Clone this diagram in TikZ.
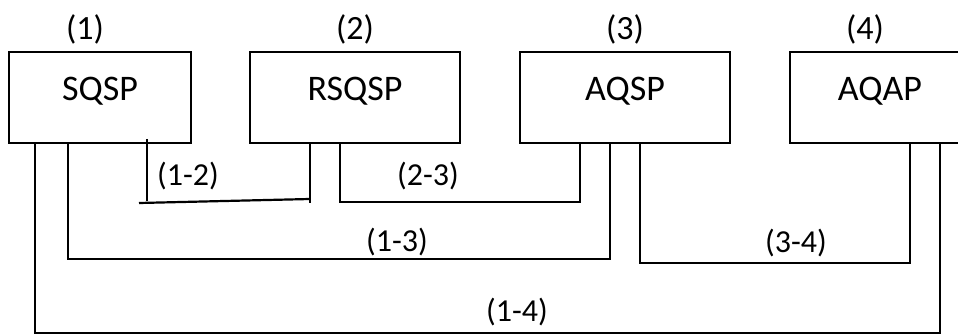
\documentclass[tikz,border=0pt]{standalone}
\usepackage{fontspec}
\setmainfont{Carlito}
\tikzset{
  box/.style={draw, line width=2.2pt, minimum height=91pt, inner sep=0pt,
    font=\fontsize{36}{42}\selectfont, text height=25pt, text depth=18pt},
  num/.style={font=\fontsize{34}{40}\selectfont, inner sep=0pt, label distance=6pt},
  link/.style={draw, line width=2.2pt},
  tag/.style={font=\fontsize{32}{38}\selectfont, inner sep=0pt, text height=20pt, text depth=6pt}
}
\begin{document}
\begin{tikzpicture}[x=1pt,y=-1pt]
\useasboundingbox (0,0) rectangle (958,334);

\node[box, minimum width=182pt, label={[num, xshift=-15pt]above:(1)}] (sqsp) at (100,97.5) {SQSP};
\node[box, minimum width=210pt, label={[num]above:(2)}] (rsqsp) at (355,97.5) {RSQSP};
\node[box, minimum width=210pt, label={[num]above:(3)}] (aqsp) at (625,97.5) {AQSP};
\node[box, minimum width=180pt, label={[num, xshift=-15pt]above:(4)}] (aqap) at (880,97.5) {AQAP};

% corners of the connectors
\coordinate (c12a) at (139,203);
\coordinate (c12b) at (310,199);
\coordinate (c23a) at (340,202);
\coordinate (c23b) at (580,202);
\coordinate (c13a) at (68,259);
\coordinate (c13b) at (610,259);
\coordinate (c34a) at (640,263);
\coordinate (c34b) at (910,263);
\coordinate (c14a) at (35,333);
\coordinate (c14b) at (940,333);

\path[link] (147,139) -- (147,201);
\path[link] (c12a) -- (c12b);
\path[link] (rsqsp.south -| c12b) -- (310,203);
\path[link] (rsqsp.south -| c23a) -- (c23a) -- (c23b) -- (aqsp.south -| c23b);
\path[link] (sqsp.south -| c13a) -- (c13a) -- (c13b) -- (aqsp.south -| c13b);
\path[link] (aqsp.south -| c34a) -- (c34a) -- (c34b) -- (aqap.south -| c34b);
\path[link] (sqsp.south -| c14a) -- (c14a) -- (c14b) -- (aqap.south -| c14b);

\node[tag] (t12) at (188,178) {(1-2)};
\node[tag] (t23) at (428,178) {(2-3)};
\node[tag] (t13) at (397,244) {(1-3)};
\node[tag] (t34) at (796,245) {(3-4)};
\node[tag] (t14) at (517,314) {(1-4)};
\end{tikzpicture}
\end{document}
